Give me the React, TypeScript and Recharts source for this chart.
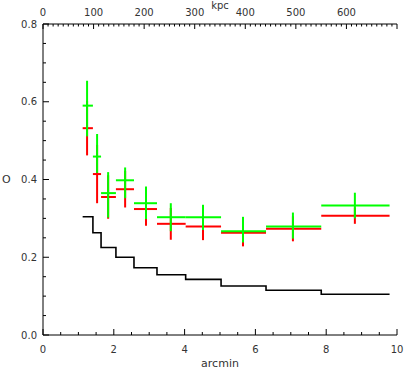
import React from "react";
import { ComposedChart, Line, Scatter, ErrorBar, XAxis, YAxis } from "recharts";

// bin edges in arcmin (shared by the step profile and the error crosses)
const binEdges = [1.12, 1.41, 1.64, 2.06, 2.57, 3.22, 4.03, 5.03, 6.3, 7.86, 9.79];
const binCenters = [1.245, 1.528, 1.84, 2.32, 2.91, 3.61, 4.52, 5.65, 7.06, 8.81];

const blackValues = [0.304, 0.263, 0.225, 0.2, 0.173, 0.155, 0.143, 0.126, 0.115, 0.105];

const greenValues = [0.59, 0.459, 0.365, 0.398, 0.339, 0.303, 0.303, 0.267, 0.279, 0.333];
const greenLow = [0.511, 0.417, 0.302, 0.352, 0.298, 0.267, 0.27, 0.238, 0.248, 0.3];
const greenHigh = [0.654, 0.517, 0.419, 0.431, 0.382, 0.339, 0.335, 0.304, 0.315, 0.366];

const redValues = [0.532, 0.414, 0.355, 0.375, 0.324, 0.286, 0.279, 0.263, 0.273, 0.307];
const redErrors = [0.07, 0.075, 0.056, 0.047, 0.043, 0.041, 0.035, 0.035, 0.032, 0.021];

const KPC_PER_ARCMIN = 70;

const arcminTicks = [0, 0.5, 1, 1.5, 2, 2.5, 3, 3.5, 4, 4.5, 5, 5.5, 6, 6.5, 7, 7.5, 8, 8.5, 9, 9.5, 10];
const kpcTicks = Array.from({ length: 71 }, (_, i) => i * 10);
const yTicks = [0, 0.05, 0.1, 0.15, 0.2, 0.25, 0.3, 0.35, 0.4, 0.45, 0.5, 0.55, 0.6, 0.65, 0.7, 0.75, 0.8];

const stepData = binEdges.map((x, i) => ({ x, y: blackValues[Math.min(i, blackValues.length - 1)] }));

const xErr = (i: number) => [binCenters[i] - binEdges[i], binEdges[i + 1] - binCenters[i]];

const greenData = binCenters.map((x, i) => ({
  x,
  y: greenValues[i],
  xe: xErr(i),
  ye: [greenValues[i] - greenLow[i], greenHigh[i] - greenValues[i]],
}));

const redData = binCenters.map((x, i) => ({ x, y: redValues[i], xe: xErr(i), ye: redErrors[i] }));

const FONT = "DejaVu Sans";
const TXT = "#333";

const isMajor = (v: number, step: number) => Math.abs(v / step - Math.round(v / step)) < 1e-6;

const BottomTick = (props: any) => {
  const { x, y, payload } = props;
  const major = isMajor(payload.value, 2);
  return (
    <g>
      <line x1={x} x2={x} y1={y} y2={y - (major ? 6 : 3)} stroke="#000" />
      {major && (
        <text x={x} y={y + 17.5} textAnchor="middle" fontSize={10} fontFamily={FONT} fill={TXT}>
          {payload.value}
        </text>
      )}
    </g>
  );
};

const TopTick = (props: any) => {
  const { x, y, payload } = props;
  const major = isMajor(payload.value, 100);
  return (
    <g>
      <line x1={x} x2={x} y1={y} y2={y + (major ? 5 : 2.5)} stroke="#000" />
      {major && payload.value <= 600 && (
        <text x={x} y={y - 8.5} textAnchor="middle" fontSize={10} fontFamily={FONT} fill={TXT}>
          {payload.value}
        </text>
      )}
    </g>
  );
};

const LeftTick = (props: any) => {
  const { x, y, payload } = props;
  const major = isMajor(payload.value, 0.2);
  return (
    <g>
      <line x1={x} x2={x + (major ? 6 : 3)} y1={y} y2={y} stroke="#000" />
      {major && (
        <text x={x - 6} y={y + 3.5} textAnchor="end" fontSize={10} fontFamily={FONT} fill={TXT}>
          {payload.value.toFixed(1)}
        </text>
      )}
    </g>
  );
};

const RightTick = (props: any) => {
  const { x, y, payload } = props;
  const major = isMajor(payload.value, 0.2);
  return <line x1={x} x2={x - (major ? 6 : 3)} y1={y} y2={y} stroke="#000" />;
};

const noDot = () => <g />;

export default function App() {
  return (
    <div style={{ position: "absolute", left: 0, top: 0 }}>
      <ComposedChart width={415} height={378} margin={{ top: 0, right: 18, bottom: 0, left: 0 }}>
        <XAxis
          xAxisId="arcmin"
          dataKey="x"
          type="number"
          domain={[0, 10]}
          ticks={arcminTicks}
          interval={0}
          allowDataOverflow
          height={43}
          tickSize={0}
          tickMargin={0}
          tickLine={false}
          tick={<BottomTick />}
          axisLine={{ stroke: "#000" }}
          label={{ value: "arcmin", position: "insideBottom", offset: 11, fontSize: 11, fontFamily: FONT, fill: TXT }}
        />
        <XAxis
          xAxisId="kpc"
          orientation="top"
          dataKey={(d: any) => d.x * KPC_PER_ARCMIN}
          type="number"
          domain={[0, 700]}
          ticks={kpcTicks}
          interval={0}
          allowDataOverflow
          height={24}
          tickSize={0}
          tickMargin={0}
          tickLine={false}
          tick={<TopTick />}
          axisLine={{ stroke: "#000" }}
          label={{ value: "kpc", position: "insideTop", offset: 2, fontSize: 10, fontFamily: FONT, fill: TXT }}
        />
        <YAxis
          yAxisId="left"
          type="number"
          domain={[0, 0.8]}
          ticks={yTicks}
          interval={0}
          allowDataOverflow
          width={43}
          tickSize={0}
          tickMargin={0}
          tickLine={false}
          tick={<LeftTick />}
          axisLine={{ stroke: "#000" }}
          label={{ value: "O", position: "insideLeft", offset: 2, fontSize: 11, fontFamily: FONT, fill: TXT }}
        />
        <YAxis
          yAxisId="right"
          orientation="right"
          type="number"
          domain={[0, 0.8]}
          ticks={yTicks}
          interval={0}
          allowDataOverflow
          width={0}
          tickSize={0}
          tickMargin={0}
          tickLine={false}
          tick={<RightTick />}
          axisLine={{ stroke: "#000" }}
        />
        <Line
          xAxisId="kpc"
          yAxisId="left"
          data={stepData}
          dataKey="y"
          type="stepAfter"
          stroke="#000"
          strokeWidth={1.6}
          dot={false}
          isAnimationActive={false}
        />
        <Scatter xAxisId="arcmin" yAxisId="right" data={redData} dataKey="y" shape={noDot} isAnimationActive={false}>
          <ErrorBar dataKey="xe" direction="x" width={0} stroke="#ff0000" strokeWidth={2} />
          <ErrorBar dataKey="ye" direction="y" width={0} stroke="#ff0000" strokeWidth={2} />
        </Scatter>
        <Scatter xAxisId="arcmin" yAxisId="left" data={greenData} dataKey="y" shape={noDot} isAnimationActive={false}>
          <ErrorBar dataKey="xe" direction="x" width={0} stroke="#00ff00" strokeWidth={2} />
          <ErrorBar dataKey="ye" direction="y" width={0} stroke="#00ff00" strokeWidth={2} />
        </Scatter>
      </ComposedChart>
    </div>
  );
}
